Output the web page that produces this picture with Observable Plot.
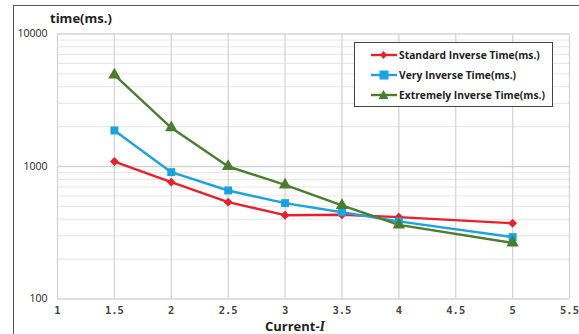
<!DOCTYPE html>
<html>
<head>
<meta charset="utf-8">
<script src="https://cdn.jsdelivr.net/npm/d3@7"></script>
<script src="https://cdn.jsdelivr.net/npm/@observablehq/plot@0.6"></script>
<style>
  html, body { margin: 0; padding: 0; background: #fff; }
  #wrap { position: relative; width: 579px; height: 334px; overflow: hidden; background: #fff; }
  #frame { position: absolute; left: 13px; top: 5px; width: 600px; height: 400px; border-left: 1.5px solid #555; border-top: 1.5px solid #555; pointer-events: none; }
  #ytitle { position: absolute; left: 50px; top: 9px; font: bold 13px "Open Sans", sans-serif; color: #222; }
  #xtitle { position: absolute; left: 0; width: 590px; text-align: center; top: 320px; line-height: 13px; font: bold 13px/13px "Open Sans", sans-serif; color: #222; }
  #xtitle i { font-family: "Liberation Serif", serif; font-style: italic; font-weight: bold; font-size: 14px; }
  #legend { position: absolute; left: 354px; top: 42px; width: 199px; height: 65px; border: 1.2px solid #444; background: #fff; box-sizing: border-box; font: bold 10.3px "Open Sans", sans-serif; color: #222; }
  .item { position: absolute; left: 16px; height: 14px; display: flex; align-items: center; white-space: nowrap; }
  .item svg { margin-right: 2px; }
</style>
</head>
<body>
<div id="wrap">
  <div id="chart"></div>
  <div id="frame"></div>
  <div id="ytitle">time(ms.)</div>
  <div id="xtitle">Current-<i>I</i></div>
  <div id="legend"></div>
</div>
<script>
const currents = [1.5, 2, 2.5, 3, 3.5, 4, 5];
const standard = [1090, 762, 538, 429, 432, 415, 373];
const very = [1870, 906, 659, 529, 452, 385, 293];
const extreme = [4920, 1960, 1000, 727, 508, 363, 265];
const seriesNames = ["Standard Inverse Time(ms.)", "Very Inverse Time(ms.)", "Extremely Inverse Time(ms.)"];
const seriesColors = ["#e8202a", "#1ba3e0", "#4a7d2e"];
const seriesSymbols = ["diamond2", "square", "triangle"];
const xTicks = [1, 1.5, 2, 2.5, 3, 3.5, 4, 4.5, 5, 5.5];
const yTicks = [100, 1000, 10000];
const yMinor = [200, 300, 400, 500, 600, 700, 800, 900, 2000, 3000, 4000, 5000, 6000, 7000, 8000, 9000];

const allValues = [standard, very, extreme];
const rows = [];
allValues.forEach((vals, s) => {
  vals.forEach((v, i) => rows.push({series: seriesNames[s], x: currents[i], y: v, s}));
});

const symbolR = {diamond2: 4, square: 4.5, triangle: 4.6};

const chart = Plot.plot({
  width: 579,
  height: 334,
  marginLeft: 57,
  marginRight: 10,
  marginTop: 33.5,
  marginBottom: 35.5,
  style: {background: "transparent", overflow: "visible"},
  x: {domain: [1, 5.5]},
  y: {type: "log", domain: [100, 10000]},
  marks: [
    Plot.gridY(yMinor, {stroke: "#e6e6e6", strokeOpacity: 1, strokeWidth: 1}),
    Plot.gridY(yTicks, {stroke: "#d4d4d4", strokeOpacity: 1, strokeWidth: 1.3}),
    Plot.gridX(xTicks, {stroke: "#d4d4d4", strokeOpacity: 1, strokeWidth: 1.3}),
    Plot.axisY(yTicks, {tickSize: 0, tickPadding: 10, tickFormat: d => String(d), fontSize: 10.5, fontFamily: "Open Sans, sans-serif", fill: "#222", label: null}),
    Plot.axisX(xTicks, {tickSize: 0, tickPadding: 8, tickFormat: d => String(d), fontSize: 10.5, fontFamily: "DejaVu Sans Mono, monospace", fontWeight: "bold", fill: "#444", label: null}),
    ...seriesNames.map((name, s) => Plot.line(rows.filter(r => r.s === s), {x: "x", y: "y", stroke: seriesColors[s], strokeWidth: 2.4})),
    ...seriesNames.map((name, s) => Plot.dot(rows.filter(r => r.s === s), {x: "x", y: "y", fill: seriesColors[s], stroke: "none", symbol: () => seriesSymbols[s], r: symbolR[seriesSymbols[s]]}))
  ]
});
document.getElementById("chart").appendChild(chart);

// legend
const legend = document.getElementById("legend");
const shapes = [
  '<polygon points="12.5,3 16,7 12.5,11 9,7" />',
  '<rect x="8.5" y="2.5" width="9" height="9" />',
  '<polygon points="12.5,2 17.5,11 7.5,11" />'
];
seriesNames.forEach((name, s) => {
  const div = document.createElement("div");
  div.className = "item";
  div.style.top = (5 + s * 20) + "px";
  div.innerHTML = `<svg width="26" height="14"><line x1="0" y1="7" x2="26" y2="7" stroke="${seriesColors[s]}" stroke-width="2.4"/><g fill="${seriesColors[s]}">${shapes[s]}</g></svg><span>${name}</span>`;
  legend.appendChild(div);
});
</script>
</body>
</html>
